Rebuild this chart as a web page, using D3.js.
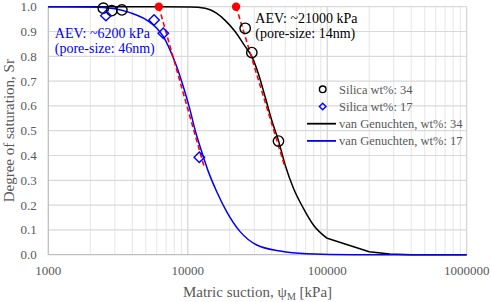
<!DOCTYPE html>
<html>
<head>
<meta charset="utf-8">
<script src="https://cdn.jsdelivr.net/npm/d3@7"></script>
<style>
  body { margin: 0; background: #fff; }
  svg { display: block; font-family: "Times New Roman", "Liberation Serif", serif; }
</style>
</head>
<body>
<div id="chart"></div>
<script>
// values
const xTicks = [1000, 10000, 100000, 1000000];
const yTicks = [0, 0.1, 0.2, 0.3, 0.4, 0.5, 0.6, 0.7, 0.8, 0.9, 1.0];

const silica34 = [
  [2480, 0.994], [2850, 0.984], [3370, 0.987],
  [25800, 0.913], [28800, 0.815], [44700, 0.458]
];
const silica17 = [
  [2590, 0.964], [5730, 0.946], [6680, 0.893], [12100, 0.393]
];
const aevPoints = [[6200, 1.0], [22200, 1.0]];
const tangent17 = [[6200, 1.0], [13100, 0.355]];
const tangent34 = [[22200, 1.0], [50000, 0.35]];

const vg34 = [
  [1000, 1.0], [5000, 1.0], [10430, 0.999], [13300, 0.994], [16150, 0.973],
  [18530, 0.945], [21850, 0.900], [25760, 0.840], [28770, 0.800], [32090, 0.730],
  [35860, 0.637], [40090, 0.540], [44700, 0.460], [49930, 0.362], [57260, 0.268],
  [67490, 0.187], [79610, 0.120], [100000, 0.066]
];
// coarse tail of the black fit, drawn with straight segments
const vg34Tail = [
  [100000, 0.066], [200000, 0.012], [280000, 0.003], [400000, 0.0], [1000000, 0.0]
];
const vg17 = [
  [1000, 1.0], [2000, 0.999], [3000, 0.992], [3855, 0.976], [5080, 0.946],
  [5995, 0.913], [6686, 0.879], [7466, 0.825], [8339, 0.758], [9297, 0.677],
  [10390, 0.583], [11280, 0.503], [12590, 0.415], [14050, 0.335], [16140, 0.254],
  [19040, 0.173], [23730, 0.093], [31240, 0.039], [45920, 0.015],
  [71400, 0.004], [150000, 0.0], [1000000, 0.0]
];

const legendItems = [
  { label: "Silica wt%: 34", kind: "circle", color: "#000" },
  { label: "Silica wt%: 17", kind: "diamond", color: "#0000ff" },
  { label: "van Genuchten, wt%: 34", kind: "line", color: "#000" },
  { label: "van Genuchten, wt%: 17", kind: "line", color: "#0000ff" }
];

const W = 491, H = 302;
const margin = { top: 6.7, right: 24.3, bottom: 47.3, left: 48.3 };
const width = W - margin.left - margin.right;
const height = H - margin.top - margin.bottom;

const svg = d3.select("#chart").append("svg")
  .attr("width", W).attr("height", H);

const chart = svg.append("g")
  .attr("transform", `translate(${margin.left},${margin.top})`);

const x = d3.scaleLog().domain([1000, 1000000]).range([0, width]);
const y = d3.scaleLinear().domain([0, 1]).range([height, 0]);

// minor vertical grid
const minor = [];
[1000, 10000, 100000].forEach(dec => {
  for (let k = 2; k <= 9; k++) minor.push(dec * k);
});
chart.append("g").selectAll("line").data(minor).join("line")
  .attr("x1", d => x(d)).attr("x2", d => x(d))
  .attr("y1", 0).attr("y2", height)
  .attr("stroke", "#e6e6e6").attr("stroke-width", 1);

// major vertical grid
chart.append("g").selectAll("line").data(xTicks.slice(1)).join("line")
  .attr("x1", d => x(d)).attr("x2", d => x(d))
  .attr("y1", 0).attr("y2", height)
  .attr("stroke", "#d4d4d4").attr("stroke-width", 1.2);

// horizontal grid
chart.append("g").selectAll("line").data(yTicks.slice(1)).join("line")
  .attr("x1", 0).attr("x2", width)
  .attr("y1", d => y(d)).attr("y2", d => y(d))
  .attr("stroke", "#d9d9d9").attr("stroke-width", 1.2);

// axes
chart.append("line")
  .attr("x1", 0).attr("x2", width).attr("y1", height).attr("y2", height)
  .attr("stroke", "#bfbfbf").attr("stroke-width", 1.3);
chart.append("line")
  .attr("x1", 0).attr("x2", 0).attr("y1", 0).attr("y2", height)
  .attr("stroke", "#bfbfbf").attr("stroke-width", 1.3);

// tick labels
chart.append("g").selectAll("text").data(xTicks).join("text")
  .attr("x", d => x(d)).attr("y", height + 20)
  .attr("text-anchor", "middle")
  .attr("font-size", "13px").attr("fill", "#595959")
  .text(d => d);

chart.append("g").selectAll("text").data(yTicks).join("text")
  .attr("x", -11.5).attr("y", d => y(d))
  .attr("dy", "0.35em")
  .attr("text-anchor", "end")
  .attr("font-size", "13px").attr("fill", "#595959")
  .text(d => d3.format(".1f")(d));

// axis titles
const xt = svg.append("text")
  .attr("x", margin.left + width / 2).attr("y", 296.5)
  .attr("text-anchor", "middle")
  .attr("font-size", "15px").attr("fill", "#595959");
xt.append("tspan").text("Matric suction, ψ");
xt.append("tspan").attr("font-size", "10px").attr("dy", 3).text("M");
xt.append("tspan").attr("dy", -3).text(" [kPa]");

svg.append("text")
  .attr("transform", `translate(14,${margin.top + height / 2}) rotate(-90)`)
  .attr("text-anchor", "middle")
  .attr("font-size", "15px").attr("fill", "#595959")
  .text("Degree of saturation, Sr");

// curves
const line = d3.line()
  .x(d => x(d[0])).y(d => y(d[1]))
  .curve(d3.curveMonotoneX);
const straight = d3.line().x(d => x(d[0])).y(d => y(d[1]));

chart.append("path").datum(vg34)
  .attr("fill", "none").attr("stroke", "#000").attr("stroke-width", 1.5)
  .attr("d", line);
chart.append("path").datum(vg34Tail)
  .attr("fill", "none").attr("stroke", "#000").attr("stroke-width", 1.5)
  .attr("stroke-linejoin", "round")
  .attr("d", straight);
chart.append("path").datum(vg17)
  .attr("fill", "none").attr("stroke", "#0000ff").attr("stroke-width", 1.5)
  .attr("d", line);

// tangent lines
[tangent17, tangent34].forEach(t => {
  chart.append("path").datum(t)
    .attr("fill", "none").attr("stroke", "#ff0000").attr("stroke-width", 1.6)
    .attr("stroke-dasharray", "5,3")
    .attr("d", straight);
});

// markers
chart.append("g").selectAll("circle").data(silica34).join("circle")
  .attr("cx", d => x(d[0])).attr("cy", d => y(d[1])).attr("r", 5.2)
  .attr("fill", "none").attr("stroke", "#000").attr("stroke-width", 1.4);

const diamond = d3.symbol().type(d3.symbolDiamond2).size(70);
chart.append("g").selectAll("path").data(silica17).join("path")
  .attr("transform", d => `translate(${x(d[0])},${y(d[1])})`)
  .attr("d", diamond)
  .attr("fill", "none").attr("stroke", "#0000ff").attr("stroke-width", 1.4);

chart.append("g").selectAll("circle").data(aevPoints).join("circle")
  .attr("cx", d => x(d[0])).attr("cy", d => y(d[1])).attr("r", 4.2)
  .attr("fill", "#ff0000");

// annotations
const ann17 = chart.append("text")
  .attr("x", 6.5).attr("y", 31)
  .attr("font-size", "14px").attr("fill", "#0000ff");
ann17.append("tspan").attr("x", 6.5).text("AEV: ~6200 kPa");
ann17.append("tspan").attr("x", 6.5).attr("dy", 15.5).text("(pore-size: 46nm)");

const ann34 = chart.append("text")
  .attr("x", 207).attr("y", 16)
  .attr("font-size", "14px").attr("fill", "#000");
ann34.append("tspan").attr("x", 207).text("AEV: ~21000 kPa");
ann34.append("tspan").attr("x", 207).attr("dy", 15.5).text("(pore-size: 14nm)");

// legend
const legend = svg.append("g").attr("transform", "translate(307,89.3)");
legendItems.forEach((item, i) => {
  const gy = i * 17.2;
  if (item.kind === "circle") {
    legend.append("circle").attr("cx", 15.7).attr("cy", gy).attr("r", 3.3)
      .attr("fill", "none").attr("stroke", item.color).attr("stroke-width", 1.4);
  } else if (item.kind === "diamond") {
    legend.append("path")
      .attr("transform", `translate(15.7,${gy})`)
      .attr("d", d3.symbol().type(d3.symbolDiamond2).size(28)())
      .attr("fill", "none").attr("stroke", item.color).attr("stroke-width", 1.4);
  } else {
    legend.append("line").attr("x1", 0).attr("x2", 29).attr("y1", gy).attr("y2", gy)
      .attr("stroke", item.color).attr("stroke-width", 1.8);
  }
  legend.append("text")
    .attr("x", 32).attr("y", gy).attr("dy", "0.35em")
    .attr("font-size", "12.5px").attr("fill", "#595959")
    .text(item.label);
});
</script>
</body>
</html>
